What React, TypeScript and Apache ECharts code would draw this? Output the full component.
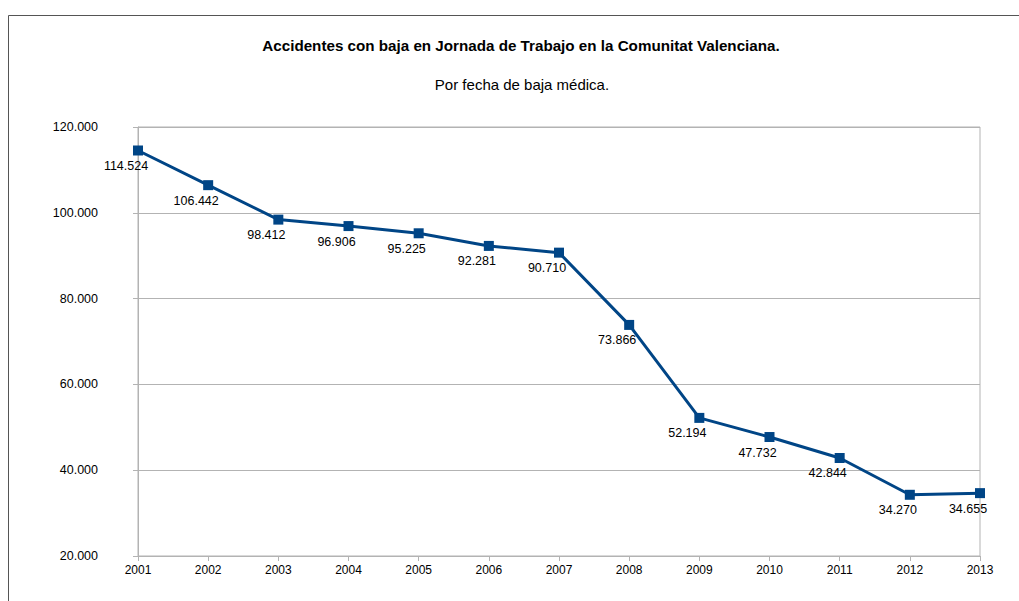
import React, { useEffect, useRef } from "react";
import * as echarts from "echarts";

const titleText = "Accidentes con baja en Jornada de Trabajo en la Comunitat Valenciana.";
const subtitleText = "Por fecha de baja médica.";
const years = ["2001", "2002", "2003", "2004", "2005", "2006", "2007", "2008", "2009", "2010", "2011", "2012", "2013"];
const accidents = [114524, 106442, 98412, 96906, 95225, 92281, 90710, 73866, 52194, 47732, 42844, 34270, 34655];
const yMin = 20000;
const yMax = 120000;
const yStep = 20000;

const fmt = (v: number) => String(Math.round(v)).replace(/\B(?=(\d{3})+(?!\d))/g, ".");

export default function App() {
  const ref = useRef<HTMLDivElement>(null);
  useEffect(() => {
    if (!ref.current) return;
    const chart = echarts.init(ref.current, undefined, { renderer: "svg" });
    const font = "'Liberation Sans', Arial, sans-serif";
    chart.setOption({
      animation: false,
      backgroundColor: "#ffffff",
      textStyle: { fontFamily: font },
      graphic: [
        {
          type: "rect",
          shape: { x: 8.5, y: 15.5, width: 1100, height: 700 },
          style: { fill: "none", stroke: "#555555", lineWidth: 1 },
          silent: true,
        },
        {
          type: "text",
          x: 521,
          y: 45,
          style: {
            text: titleText,
            fontFamily: font,
            fontSize: 15.2,
            fontWeight: "bold",
            fill: "#000",
            align: "center",
            verticalAlign: "middle",
          },
        },
        {
          type: "text",
          x: 522,
          y: 84,
          style: {
            text: subtitleText,
            fontFamily: font,
            fontSize: 15,
            fontWeight: "normal",
            fill: "#000",
            align: "center",
            verticalAlign: "middle",
          },
        },
      ],
      grid: {
        left: 138,
        right: 39,
        top: 127,
        bottom: 45,
        show: true,
        borderColor: "#b3b3b3",
        borderWidth: 1,
      },
      xAxis: {
        type: "category",
        data: years,
        boundaryGap: false,
        axisLine: { lineStyle: { color: "#b3b3b3" } },
        axisTick: { show: true, length: 5, lineStyle: { color: "#b3b3b3" } },
        axisLabel: { color: "#000", fontSize: 12, fontFamily: font, margin: 8 },
        splitLine: { show: false },
      },
      yAxis: {
        type: "value",
        min: yMin,
        max: yMax,
        interval: yStep,
        axisLine: { show: true, lineStyle: { color: "#b3b3b3" } },
        axisTick: { show: true, length: 5, lineStyle: { color: "#b3b3b3" } },
        axisLabel: { color: "#000", fontSize: 12.5, fontFamily: font, margin: 40, formatter: (v: number) => fmt(v) },
        splitLine: { show: true, lineStyle: { color: "#b3b3b3" } },
      },
      series: [
        {
          type: "line",
          data: accidents,
          symbol: "rect",
          symbolSize: 10,
          lineStyle: { color: "#004586", width: 3 },
          itemStyle: { color: "#004586" },
          label: {
            show: true,
            position: "bottom",
            distance: 4,
            offset: [-12, 0],
            color: "#000",
            fontSize: 12.5,
            fontFamily: font,
            formatter: (p: any) => fmt(p.value),
          },
        },
      ],
    });
    return () => chart.dispose();
  }, []);
  return (
    <div
      ref={ref}
      style={{ position: "absolute", left: 0, top: 0, width: 1019, height: 601 }}
    />
  );
}
